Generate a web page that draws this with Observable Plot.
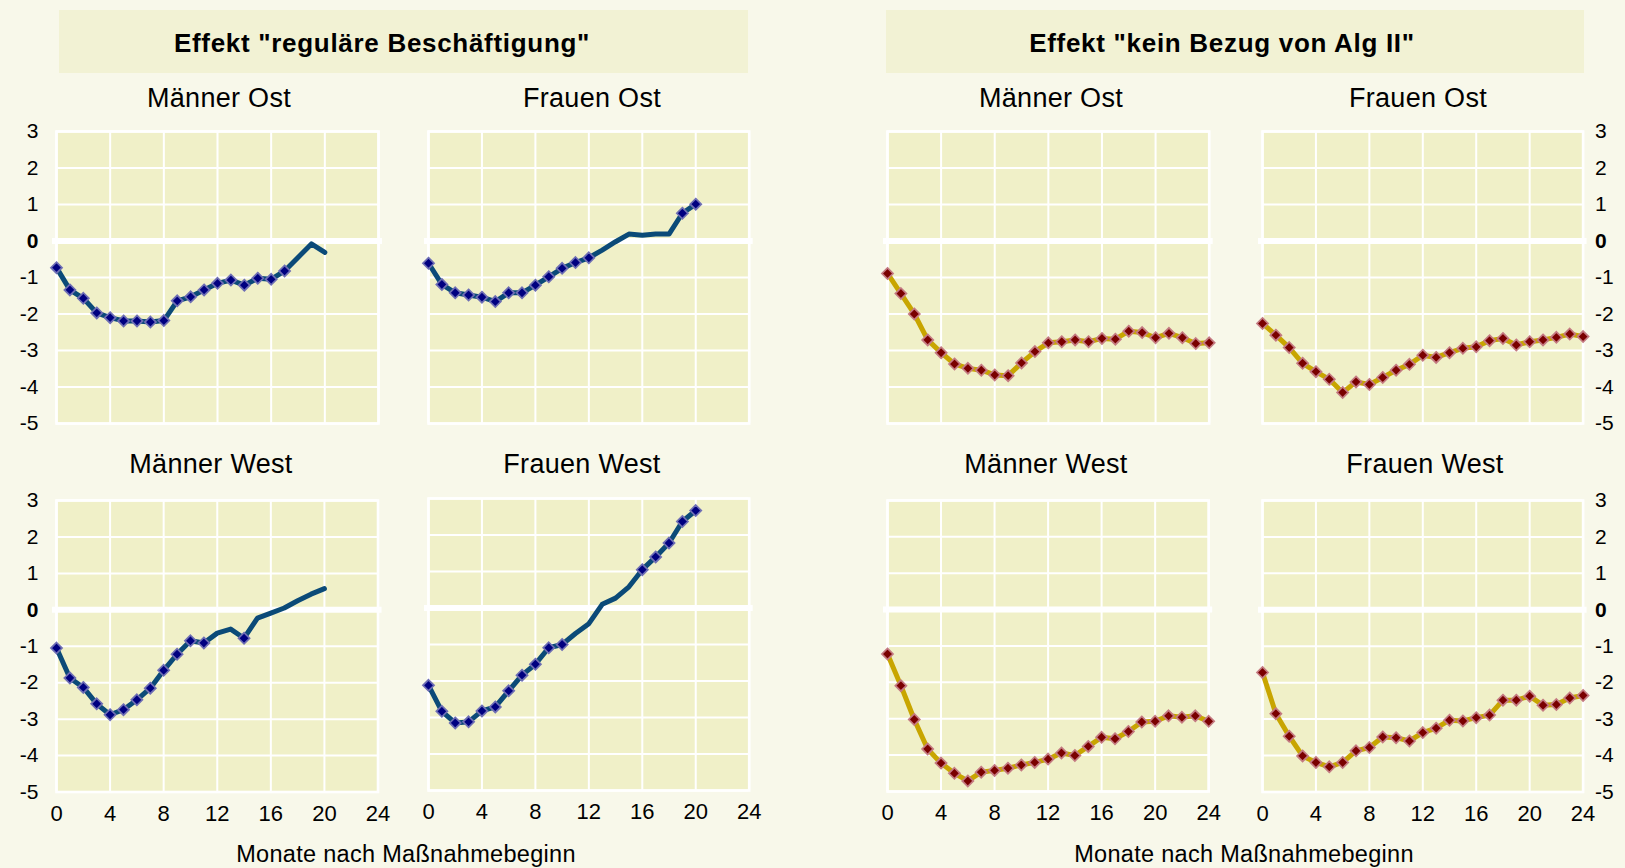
<!DOCTYPE html>
<html><head><meta charset="utf-8">
<script src="https://cdn.jsdelivr.net/npm/d3@7"></script>
<script src="https://cdn.jsdelivr.net/npm/@observablehq/plot@0.6"></script>
<style>
body{margin:0;background:#F8F8EA;}
#root{position:relative;width:1625px;height:868px;overflow:hidden;background:#F8F8EA;font-family:"Liberation Sans",Arial,sans-serif;color:#000;}
.box{position:absolute;background:#F2F2D4;}
.t{position:absolute;white-space:nowrap;transform:translate(-50%,-50%);line-height:1;}
.title{font-weight:bold;font-size:26px;letter-spacing:0.7px}
.sub{font-size:27px;letter-spacing:0.3px}
.xl{font-size:23.5px;letter-spacing:0.3px}
.panel{position:absolute}
.panel svg{overflow:visible}
</style></head><body><div id="root"></div>
<script>
// ---------- data ----------
const months = [0,1,2,3,4,5,6,7,8,9,10,11,12,13,14,15,16,17,18,19,20,21,22,23,24];
const xTicks = [0,4,8,12,16,20,24];
const xTickLabels = ["0","4","8","12","16","20","24"];
const yTicks = [3,2,1,0,-1,-2,-3,-4,-5];
const yTickLabels = ["3","2","1","0","-1","-2","-3","-4","-5"];

const groupTitles = ['Effekt "reguläre Beschäftigung"', 'Effekt "kein Bezug von Alg II"'];
const xLabel = "Monate nach Maßnahmebeginn";
const panelNames = ["Männer Ost","Frauen Ost","Männer Ost","Frauen Ost","Männer West","Frauen West","Männer West","Frauen West"];

// Effekt "reguläre Beschäftigung" (months 0-20); sig = marker shown
const regMaennerOst = [-0.73,-1.34,-1.57,-1.97,-2.10,-2.19,-2.19,-2.22,-2.18,-1.64,-1.53,-1.34,-1.16,-1.07,-1.21,-1.02,-1.05,-0.82,-0.45,-0.08,-0.31];
const regMaennerOstSig = [1,1,1,1,1,1,1,1,1,1,1,1,1,1,1,1,1,1,0,0,0];
const regFrauenOst = [-0.61,-1.19,-1.42,-1.48,-1.54,-1.66,-1.42,-1.42,-1.21,-0.98,-0.75,-0.59,-0.46,-0.25,-0.02,0.19,0.16,0.19,0.19,0.76,1.01];
const regFrauenOstSig = [1,1,1,1,1,1,1,1,1,1,1,1,1,0,0,0,0,0,0,1,1];
const regMaennerWest = [-1.05,-1.87,-2.13,-2.58,-2.88,-2.74,-2.47,-2.15,-1.66,-1.22,-0.85,-0.91,-0.64,-0.53,-0.78,-0.23,-0.09,0.05,0.25,0.43,0.58];
const regMaennerWestSig = [1,1,1,1,1,1,1,1,1,1,1,1,0,0,1,0,0,0,0,0,0];
const regFrauenWest = [-2.12,-2.83,-3.15,-3.12,-2.82,-2.71,-2.27,-1.84,-1.54,-1.09,-1.00,-0.70,-0.43,0.10,0.27,0.58,1.05,1.40,1.78,2.37,2.67];
const regFrauenWestSig = [1,1,1,1,1,1,1,1,1,1,1,0,0,0,0,0,1,1,1,1,1];

// Effekt "kein Bezug von Alg II" (months 0-24)
const algMaennerOst = [-0.89,-1.44,-2.00,-2.71,-3.06,-3.37,-3.49,-3.54,-3.67,-3.69,-3.34,-3.03,-2.79,-2.76,-2.71,-2.76,-2.67,-2.69,-2.47,-2.51,-2.65,-2.53,-2.65,-2.81,-2.79];
const algFrauenOst = [-2.26,-2.58,-2.92,-3.35,-3.58,-3.79,-4.15,-3.86,-3.93,-3.74,-3.54,-3.38,-3.13,-3.19,-3.06,-2.94,-2.90,-2.73,-2.67,-2.85,-2.76,-2.71,-2.64,-2.55,-2.62];
const algMaennerWest = [-1.22,-2.09,-3.02,-3.83,-4.22,-4.50,-4.71,-4.47,-4.42,-4.36,-4.27,-4.20,-4.11,-3.94,-4.01,-3.76,-3.51,-3.55,-3.35,-3.09,-3.07,-2.92,-2.96,-2.92,-3.07];
const algFrauenWest = [-1.72,-2.85,-3.47,-4.01,-4.19,-4.31,-4.19,-3.87,-3.78,-3.49,-3.51,-3.60,-3.37,-3.25,-3.03,-3.05,-2.96,-2.89,-2.48,-2.48,-2.37,-2.62,-2.60,-2.42,-2.35];
const algSig = [1,1,1,1,1,1,1,1,1,1,1,1,1,1,1,1,1,1,1,1,1,1,1,1,1];

// ---------- styles / layout ----------
const FONT = '"Liberation Sans", Arial, sans-serif';
const panelFill = "#F0F0C8";
const styles = {
  reg: {line: "#0B4A78", fill: "#000080", stroke: "#6E6EB4"},
  alg: {line: "#C8A500", fill: "#7A0000", stroke: "#C47A82"}
};
const layout = [
  {name:0, values: regMaennerOst, sig: regMaennerOstSig, type:"reg", l:56,    r:378,    t:131,   b:423,   yAxis:"left",  xAxis:false, tx:219,  ty:98},
  {name:1, values: regFrauenOst,  sig: regFrauenOstSig,  type:"reg", l:428.3, r:749,    t:131,   b:423,   yAxis:null,    xAxis:false, tx:592,  ty:98},
  {name:2, values: algMaennerOst, sig: algSig,           type:"alg", l:887.3, r:1209,   t:131,   b:423,   yAxis:null,    xAxis:false, tx:1051, ty:98},
  {name:3, values: algFrauenOst,  sig: algSig,           type:"alg", l:1261.7,r:1582.3, t:131,   b:423,   yAxis:"right", xAxis:false, tx:1418, ty:98},
  {name:4, values: regMaennerWest,sig: regMaennerWestSig,type:"reg", l:56,    r:377.5,  t:500,   b:791.5, yAxis:"left",  xAxis:true,  tx:211,  ty:464},
  {name:5, values: regFrauenWest, sig: regFrauenWestSig, type:"reg", l:428.3, r:749,    t:497.5, b:789.5, yAxis:null,    xAxis:true,  tx:582,  ty:464},
  {name:6, values: algMaennerWest,sig: algSig,           type:"alg", l:887.3, r:1208.5, t:500,   b:791,   yAxis:null,    xAxis:true,  tx:1046, ty:464},
  {name:7, values: algFrauenWest, sig: algSig,           type:"alg", l:1261.7,r:1582.3, t:500,   b:791.5, yAxis:"right", xAxis:true,  tx:1425, ty:464}
];

const root = document.getElementById("root");
function addDiv(cls, text, x, y) {
  const d = document.createElement("div");
  d.className = "t " + cls;
  d.textContent = text;
  d.style.left = x + "px"; d.style.top = y + "px";
  root.appendChild(d);
}
function addBox(x, y, w, h) {
  const d = document.createElement("div");
  d.className = "box";
  Object.assign(d.style, {left: x+"px", top: y+"px", width: w+"px", height: h+"px"});
  root.appendChild(d);
}

addBox(59, 10, 689, 63);
addBox(886, 10, 698, 63);
addDiv("title", groupTitles[0], 382, 43);
addDiv("title", groupTitles[1], 1222, 43);
addDiv("xl", xLabel, 406, 855);
addDiv("xl", xLabel, 1244, 855);

const yFmt = d => yTickLabels[yTicks.indexOf(d)];
const xFmt = d => xTickLabels[xTicks.indexOf(d)];

layout.forEach(p => {
  const data = p.values.map((v, i) => ({m: months[i], v, sig: p.sig[i]}));
  const st = styles[p.type];
  const ml = p.yAxis === "left" ? p.l : 10;
  const mr = p.yAxis === "right" ? 1625 - p.r : 10;
  const mt = 10;
  const mb = p.xAxis ? 40 : 10;
  const marks = [
    Plot.frame({fill: panelFill, stroke: "none"}),
    Plot.gridX(xTicks, {stroke: "white", strokeOpacity: 1, strokeWidth: 2}),
    Plot.gridY(yTicks, {stroke: "white", strokeOpacity: 1, strokeWidth: 2}),
    Plot.frame({stroke: "white", strokeWidth: 2.6}),
    Plot.ruleY([0], {stroke: "white", strokeWidth: 6, insetLeft: -4, insetRight: -4}),
    Plot.line(data, {x: "m", y: "v", stroke: st.line, strokeWidth: 5, strokeLinejoin: "round"}),
    Plot.dot(data.filter(d => d.sig), {x: "m", y: "v", symbol: "diamond2", r: 5, fill: st.fill, stroke: st.stroke, strokeWidth: 1.7})
  ];
  if (p.yAxis) {
    const pad = p.yAxis === "left" ? p.l - 38 : 12;
    marks.push(Plot.axisY(yTicks.filter(t => t !== 0), {anchor: p.yAxis, tickSize: 0, tickPadding: pad, tickFormat: yFmt, fontSize: 21, label: null}));
    marks.push(Plot.axisY([0], {anchor: p.yAxis, tickSize: 0, tickPadding: pad, tickFormat: yFmt, fontSize: 21, fontWeight: "bold", label: null}));
  }
  if (p.xAxis) {
    marks.push(Plot.axisX(xTicks, {anchor: "bottom", tickSize: 0, tickPadding: 13, tickFormat: xFmt, fontSize: 22, label: null}));
  }
  const chart = Plot.plot({
    width: (p.r - p.l) + ml + mr,
    height: (p.b - p.t) + mt + mb,
    marginLeft: ml, marginRight: mr, marginTop: mt, marginBottom: mb,
    x: {domain: [0, 24], axis: null, label: null},
    y: {domain: [-5, 3], axis: null, label: null},
    style: {background: "transparent", overflow: "visible", fontFamily: FONT, color: "#000"},
    marks
  });
  const wrap = document.createElement("div");
  wrap.className = "panel";
  wrap.style.left = (p.l - ml) + "px";
  wrap.style.top = (p.t - mt) + "px";
  wrap.appendChild(chart);
  root.appendChild(wrap);
  addDiv("sub", panelNames[p.name], p.tx, p.ty);
});
</script></body></html>
